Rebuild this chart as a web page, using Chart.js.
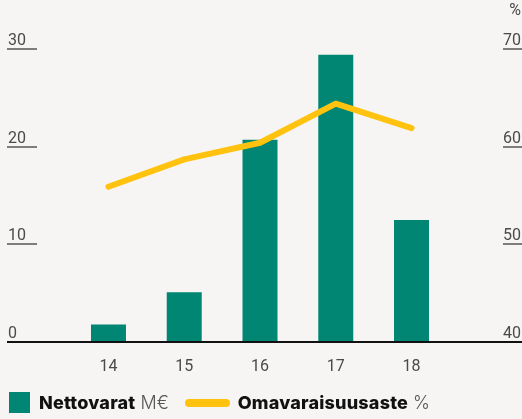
<!DOCTYPE html>
<html>
<head>
<meta charset="utf-8">
<script src="https://cdn.jsdelivr.net/npm/chart.js@4/dist/chart.umd.min.js"></script>
<style>
  body { margin: 0; background: #f7f5f3; font-family: Roboto, "Noto Sans", sans-serif; }
  #wrap { position: relative; width: 522px; height: 419px; overflow: hidden; }
  #legend { position: absolute; left: 9px; top: 392px; height: 21px; display: flex; align-items: center; font-family: Inter, Roboto, sans-serif; font-size: 18px; color: #111; white-space: nowrap; }
  #legend .box { width: 21px; height: 21px; background: #008673; margin-right: 9px; flex: none; }
  #legend .ln { width: 45px; height: 8px; border-radius: 4px; background: #ffc20e; margin: 0 8px 0 16px; flex: none; }
  #legend b { font-weight: 800; letter-spacing: 0.2px; }
  #legend span.u { color: #555; margin-left: 5px; font-weight: 300; font-size: 18px; }
</style>
</head>
<body>
<div id="wrap">
  <canvas id="myChart" width="522" height="419"></canvas>
  <div id="legend">
    <div class="box"></div><b>Nettovarat</b><span class="u">M€</span>
    <div class="ln"></div><b>Omavaraisuusaste</b><span class="u">%</span>
  </div>
</div>
<script>
// vuodet ja arvot
const years = ["14", "15", "16", "17", "18"];
const nettovarat = [1.8, 5.1, 20.7, 29.4, 12.5];
const omavaraisuus = [55.9, 58.7, 60.4, 64.4, 61.9];
const leftTicks = [0, 10, 20, 30];
const rightTicks = [40, 50, 60, 70];

// akselit piirretään itse, alleviivatut luvut
const axisPlugin = {
  id: "axisLines",
  afterDatasetsDraw(chart) {
    const ctx = chart.ctx;
    const yL = chart.scales.y;
    const yR = chart.scales.y2;
    const xs = chart.scales.x;
    const w = chart.width;
    ctx.save();
    ctx.font = "16px Roboto";
    ctx.fillStyle = "#4a4a4a";
    ctx.textBaseline = "alphabetic";
    ctx.strokeStyle = "#555";
    ctx.lineWidth = 1.5;

    leftTicks.forEach(function (v, i) {
      let py = Math.round(yL.getPixelForValue(v));
      ctx.textAlign = "left";
      ctx.fillText(v, 8, py - 4);
      if (i > 0) {
        ctx.beginPath();
        ctx.moveTo(7, py);
        ctx.lineTo(37, py);
        ctx.stroke();
      }
    });
    rightTicks.forEach(function (v, i) {
      let py = Math.round(yR.getPixelForValue(v));
      ctx.textAlign = "right";
      ctx.fillText(v, w - 1, py - 4);
      if (i > 0) {
        ctx.beginPath();
        ctx.moveTo(503, py);
        ctx.lineTo(w, py);
        ctx.stroke();
      }
    });
    ctx.textAlign = "right";
    ctx.fillText("%", w - 1, 15);

    // perusviiva
    let y0 = Math.round(yL.getPixelForValue(0));
    ctx.strokeStyle = "#111";
    ctx.lineWidth = 2;
    ctx.beginPath();
    ctx.moveTo(7, y0);
    ctx.lineTo(w, y0);
    ctx.stroke();

    ctx.textAlign = "center";
    ctx.textBaseline = "middle";
    years.forEach(function (l, i) {
      ctx.fillText(l, xs.getPixelForValue(i), y0 + 25);
    });
    ctx.restore();
  }
};

new Chart("myChart", {
  type: "bar",
  data: {
    labels: years,
    datasets: [{
      type: "line",
      label: "Omavaraisuusaste",
      data: omavaraisuus,
      yAxisID: "y2",
      borderColor: "#ffc20e",
      borderWidth: 6,
      borderCapStyle: "round",
      borderJoinStyle: "round",
      pointRadius: 0,
      tension: 0,
      order: 0
    }, {
      label: "Nettovarat",
      data: nettovarat,
      yAxisID: "y",
      backgroundColor: "#008673",
      categoryPercentage: 1,
      barPercentage: 0.462,
      order: 1
    }]
  },
  options: {
    responsive: false,
    animation: false,
    layout: { padding: { left: 70.6, right: 72.6, top: 49, bottom: 77 } },
    plugins: { legend: { display: false }, tooltip: { enabled: false } },
    scales: {
      x: { display: false, offset: true },
      y: { display: false, min: leftTicks[0], max: leftTicks[leftTicks.length - 1] },
      y2: { display: false, position: "right", min: rightTicks[0], max: rightTicks[rightTicks.length - 1] }
    }
  },
  plugins: [axisPlugin]
});
</script>
</body>
</html>
